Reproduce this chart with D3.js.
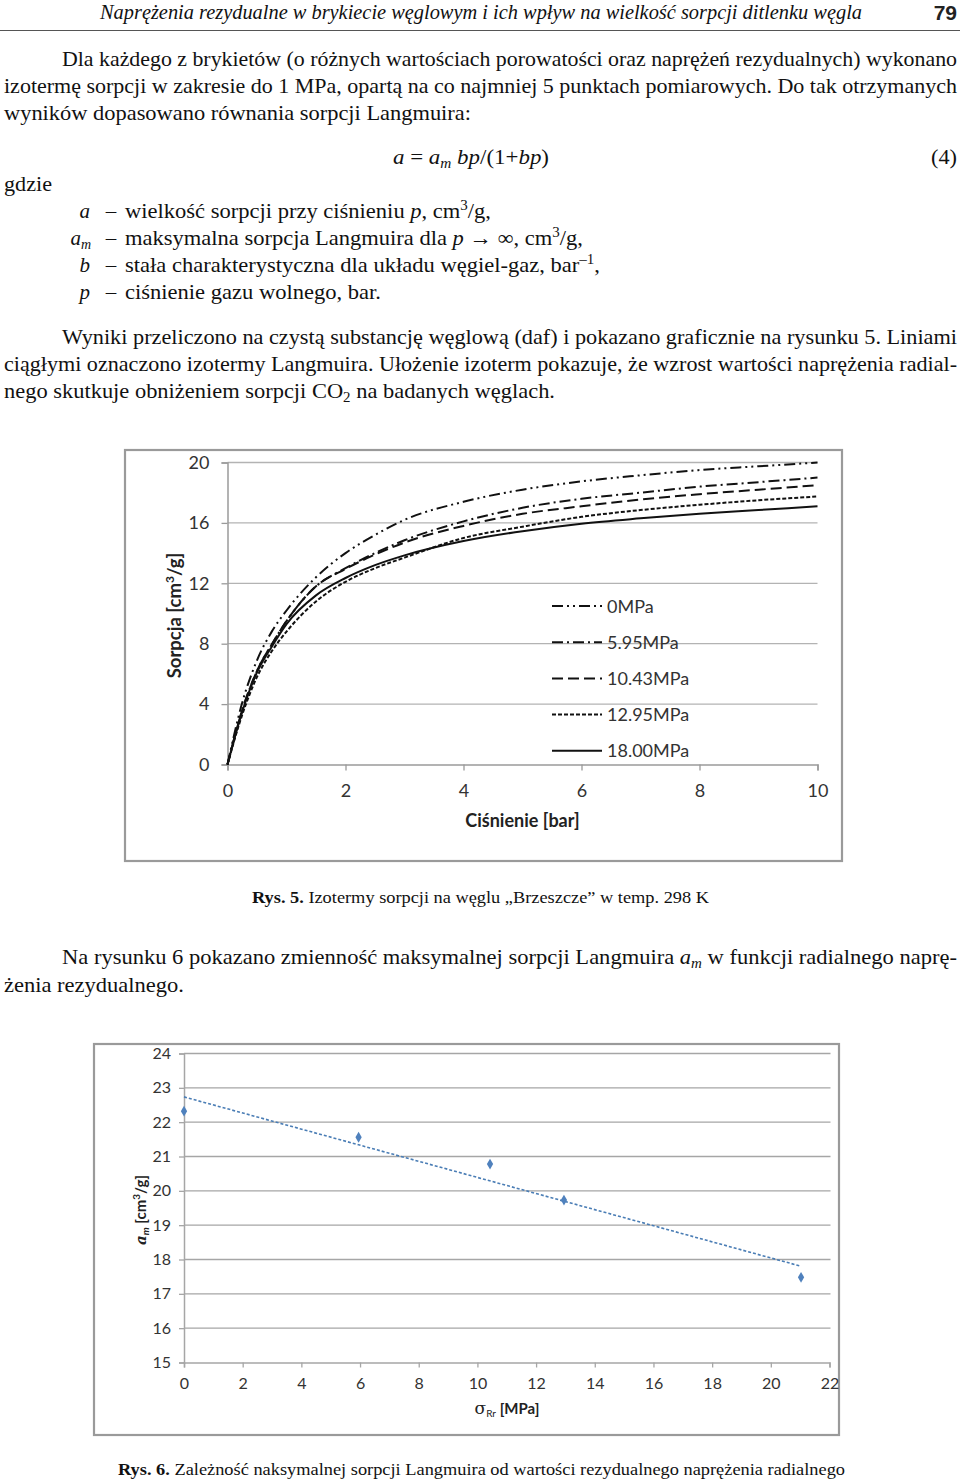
<!DOCTYPE html>
<html>
<head>
<meta charset="utf-8">
<script src="https://cdn.jsdelivr.net/npm/d3@7"></script>
<style>
  body { margin: 0; background: #fff; }
  .serif { font-family: "Liberation Serif", "Times New Roman", serif; fill: #111; }
  .sans { font-family: Lato, "Open Sans", sans-serif; }
</style>
</head>
<body>
<div id="page"></div>
<script>
// --- chart data: Fig. 5 (Langmuir isotherms) ---
var pressure = [0, 0.25, 0.5, 0.75, 1, 1.5, 2, 2.5, 3, 4, 5, 6, 7, 8, 9, 10];
var sorp0 = [0, 4.1, 6.9, 8.8, 10.2, 12.4, 14.0, 15.2, 16.2, 17.4, 18.2, 18.75, 19.15, 19.5, 19.75, 20.0];
var sorp595 = [0, 3.6, 6.2, 7.95, 9.5, 11.8, 13.0, 14.0, 14.85, 16.1, 17.0, 17.6, 18.0, 18.4, 18.7, 19.0];
var sorp1043 = [0, 3.6, 6.2, 7.95, 9.5, 11.8, 12.95, 13.9, 14.7, 15.8, 16.6, 17.1, 17.55, 17.9, 18.2, 18.5];
var sorp1295 = [0, 3.3, 5.8, 7.5, 8.8, 10.8, 12.1, 13.0, 13.7, 15.0, 15.75, 16.4, 16.85, 17.2, 17.5, 17.75];
var sorp1800 = [0, 3.5, 6.1, 7.8, 9.3, 11.2, 12.35, 13.2, 13.85, 14.8, 15.45, 15.95, 16.3, 16.6, 16.85, 17.1];
var seriesNames = ["0MPa", "5.95MPa", "10.43MPa", "12.95MPa", "18.00MPa"];
var xTicks1 = [0, 2, 4, 6, 8, 10];
var yTicks1 = [0, 4, 8, 12, 16, 20];

// --- chart data: Fig. 6 (a_m vs radial stress) ---
var stress = [0, 5.95, 10.43, 12.95, 21.03];
var amax = [22.32, 21.56, 20.78, 19.73, 17.48];
var xTicks2 = [0, 2, 4, 6, 8, 10, 12, 14, 16, 18, 20, 22];
var yTicks2 = [15, 16, 17, 18, 19, 20, 21, 22, 23, 24];

var svg = d3.select("#page").append("svg")
  .attr("width", 960)
  .attr("height", 1481);

// ---------- page text ----------
function line(x, y, len, txt, opts) {
  opts = opts || {};
  var t = svg.append("text")
    .attr("class", "serif")
    .attr("x", x)
    .attr("y", y)
    .attr("font-size", opts.size || 21)
    .attr("font-style", opts.italic ? "italic" : null);
  if (len) t.attr("textLength", len).attr("lengthAdjust", "spacingAndGlyphs");
  if (typeof txt === "string") t.text(txt);
  else txt(t);
  return t;
}

line(100, 19, 762, "Naprężenia rezydualne w brykiecie węglowym i ich wpływ na wielkość sorpcji ditlenku węgla", {italic: true, size: 20});
svg.append("text").attr("x", 957).attr("y", 20).attr("text-anchor", "end")
  .attr("font-family", "'Liberation Sans Narrow', 'Liberation Sans', sans-serif")
  .attr("font-weight", "bold").attr("font-size", 21).attr("fill", "#222").text("79");
svg.append("line").attr("x1", 0).attr("x2", 960).attr("y1", 30.5).attr("y2", 30.5)
  .attr("stroke", "#555").attr("stroke-width", 1.2);

line(62, 66, 895, "Dla każdego z brykietów (o różnych wartościach porowatości oraz naprężeń rezydualnych) wykonano");
line(4, 93, 953, "izotermę sorpcji w zakresie do 1 MPa, opartą na co najmniej 5 punktach pomiarowych. Do tak otrzymanych");
line(4, 120, 467, "wyników dopasowano równania sorpcji Langmuira:");

line(393, 164, 156, function(t) {
  t.append("tspan").attr("font-style", "italic").text("a");
  t.append("tspan").text(" = ");
  t.append("tspan").attr("font-style", "italic").text("a");
  t.append("tspan").attr("font-style", "italic").attr("font-size", 14).attr("dy", 4).text("m");
  t.append("tspan").attr("dy", -4).attr("font-style", "italic").text(" bp");
  t.append("tspan").text("/(1+");
  t.append("tspan").attr("font-style", "italic").text("bp");
  t.append("tspan").text(")");
});
line(931, 164, 26, "(4)");
line(4, 191, 48, "gdzie");

var defs = [
  {sym: "a", sub: null, y: 218, len: 366, body: function(t) {
    t.text("wielkość sorpcji przy ciśnieniu ");
    t.append("tspan").attr("font-style", "italic").text("p");
    t.append("tspan").text(", cm");
    t.append("tspan").attr("font-size", 14).attr("dy", -8).text("3");
    t.append("tspan").attr("dy", 8).text("/g,");
  }},
  {sym: "a", sub: "m", y: 245, len: 458, body: function(t) {
    t.text("maksymalna sorpcja Langmuira dla ");
    t.append("tspan").attr("font-style", "italic").text("p");
    t.append("tspan").text(" → ∞, cm");
    t.append("tspan").attr("font-size", 14).attr("dy", -8).text("3");
    t.append("tspan").attr("dy", 8).text("/g,");
  }},
  {sym: "b", sub: null, y: 272, len: 475, body: function(t) {
    t.text("stała charakterystyczna dla układu węgiel-gaz, bar");
    t.append("tspan").attr("font-size", 14).attr("dy", -8).text("–1");
    t.append("tspan").attr("dy", 8).text(",");
  }},
  {sym: "p", sub: null, y: 299, len: 256, body: function(t) {
    t.text("ciśnienie gazu wolnego, bar.");
  }}
];
defs.forEach(function(d) {
  var s = svg.append("text").attr("class", "serif").attr("x", 90).attr("y", d.y)
    .attr("font-size", 21).attr("text-anchor", "end").attr("font-style", "italic");
  if (d.sub) {
    s.attr("x", 91);
    s.append("tspan").text(d.sym);
    s.append("tspan").attr("font-size", 14).attr("dy", 4).text(d.sub);
  } else s.text(d.sym);
  svg.append("text").attr("class", "serif").attr("x", 111).attr("y", d.y)
    .attr("font-size", 21).attr("text-anchor", "middle").text("–");
  line(125, d.y, d.len, d.body);
});

line(62, 344, 895, "Wyniki przeliczono na czystą substancję węglową (daf) i pokazano graficznie na rysunku 5. Liniami");
line(4, 371, 953, "ciągłymi oznaczono izotermy Langmuira. Ułożenie izoterm pokazuje, że wzrost wartości naprężenia radial-");
line(4, 398, 551, function(t) {
  t.text("nego skutkuje obniżeniem sorpcji CO");
  t.append("tspan").attr("font-size", 14).attr("dy", 4).text("2");
  t.append("tspan").attr("dy", -4).text(" na badanych węglach.");
});

line(252, 903, 457, function(t) {
  t.append("tspan").attr("font-weight", "bold").text("Rys. 5.");
  t.append("tspan").text(" Izotermy sorpcji na węglu „Brzeszcze” w temp. 298 K");
}, {size: 17});

line(62, 964, 895, function(t) {
  t.text("Na rysunku 6 pokazano zmienność maksymalnej sorpcji Langmuira ");
  t.append("tspan").attr("font-style", "italic").text("a");
  t.append("tspan").attr("font-style", "italic").attr("font-size", 14).attr("dy", 4).text("m");
  t.append("tspan").attr("dy", -4).text(" w funkcji radialnego naprę-");
});
line(4, 992, 180, "żenia rezydualnego.");

line(118, 1475, 727, function(t) {
  t.append("tspan").attr("font-weight", "bold").text("Rys. 6.");
  t.append("tspan").text(" Zależność naksymalnej sorpcji Langmuira od wartości rezydualnego naprężenia radialnego");
}, {size: 17});

// ---------- Fig. 5 ----------
var f1 = {left: 227.5, right: 817.5, top: 462.5, bottom: 764.5};
svg.append("rect").attr("x", 125).attr("y", 450).attr("width", 717).attr("height", 411)
  .attr("fill", "#fff").attr("stroke", "#9a9a9a").attr("stroke-width", 2.2);

var x1 = d3.scaleLinear().domain([0, 10]).range([f1.left, f1.right]);
var y1 = d3.scaleLinear().domain([0, 20]).range([f1.bottom, f1.top]);

var g1 = svg.append("g").attr("class", "sans");
g1.selectAll(".grid").data(yTicks1.slice(1)).enter().append("line")
  .attr("x1", f1.left).attr("x2", f1.right)
  .attr("y1", function(d) { return y1(d); }).attr("y2", function(d) { return y1(d); })
  .attr("stroke", "#b3b3b3").attr("stroke-width", 1.3);

var yAxis1 = g1.append("g").attr("transform", "translate(" + f1.left + ",0)")
  .call(d3.axisLeft(y1).tickValues(yTicks1).tickSize(6).tickPadding(12));
var xAxis1 = g1.append("g").attr("transform", "translate(0," + f1.bottom + ")")
  .call(d3.axisBottom(x1).tickValues(xTicks1).tickSize(6).tickPadding(14));
[yAxis1, xAxis1].forEach(function(a) {
  a.select(".domain").attr("stroke", "#9a9a9a").attr("stroke-width", 1.5);
  a.selectAll(".tick line").attr("stroke", "#9a9a9a").attr("stroke-width", 1.3);
  a.selectAll("text").attr("font-family", "Lato, sans-serif").attr("font-size", 18).attr("fill", "#333");
});

var dashes = ["11,4,2,4,2,4", "11,4,2,4", "11,5", "4,2", null];
var allSeries = [sorp0, sorp595, sorp1043, sorp1295, sorp1800];
var lineGen = d3.line()
  .x(function(d) { return x1(d[0]); })
  .y(function(d) { return y1(d[1]); })
  .curve(d3.curveMonotoneX);

allSeries.forEach(function(s, i) {
  g1.append("path")
    .datum(pressure.map(function(p, j) { return [p, s[j]]; }))
    .attr("d", lineGen)
    .attr("fill", "none")
    .attr("stroke", "#111")
    .attr("stroke-width", 2)
    .attr("stroke-dasharray", dashes[i]);
});

var legend = g1.append("g");
seriesNames.forEach(function(name, i) {
  var yy = 606 + i * 36.2;
  legend.append("line").attr("x1", 552).attr("x2", 602).attr("y1", yy).attr("y2", yy)
    .attr("stroke", "#111").attr("stroke-width", 2).attr("stroke-dasharray", dashes[i]);
  legend.append("text").attr("x", 607).attr("y", yy + 6.5)
    .attr("font-size", 18).attr("fill", "#333").text(name);
});

g1.append("text").attr("x", (f1.left + f1.right) / 2).attr("y", 827)
  .attr("text-anchor", "middle").attr("font-weight", "bold").attr("font-size", 18).attr("fill", "#222")
  .text("Ciśnienie [bar]");
g1.append("text").attr("transform", "translate(181," + ((f1.top + f1.bottom) / 2 + 2) + ") rotate(-90)")
  .attr("text-anchor", "middle").attr("font-weight", "bold").attr("font-size", 18.5).attr("fill", "#222")
  .call(function(t) {
    t.append("tspan").text("Sorpcja [cm");
    t.append("tspan").attr("font-size", 12).attr("dy", -7).text("3");
    t.append("tspan").attr("dy", 7).text("/g]");
  });

// ---------- Fig. 6 ----------
var f2 = {left: 184, right: 829.5, top: 1053.5, bottom: 1362.5};
svg.append("rect").attr("x", 94).attr("y", 1044).attr("width", 745).attr("height", 391)
  .attr("fill", "#fff").attr("stroke", "#9a9a9a").attr("stroke-width", 2.2);

var x2 = d3.scaleLinear().domain([0, 22]).range([f2.left, f2.right]);
var y2 = d3.scaleLinear().domain([15, 24]).range([f2.bottom, f2.top]);

var g2 = svg.append("g").attr("class", "sans");
g2.selectAll(".grid").data(yTicks2.slice(1)).enter().append("line")
  .attr("x1", f2.left).attr("x2", f2.right + 1)
  .attr("y1", function(d) { return y2(d); }).attr("y2", function(d) { return y2(d); })
  .attr("stroke", "#a6a6a6").attr("stroke-width", 1.4);

var yAxis2 = g2.append("g").attr("transform", "translate(" + f2.left + ",0)")
  .call(d3.axisLeft(y2).tickValues(yTicks2).tickSize(5).tickPadding(8));
var xAxis2 = g2.append("g").attr("transform", "translate(0," + f2.bottom + ")")
  .call(d3.axisBottom(x2).tickValues(xTicks2).tickSize(5).tickPadding(10));
[yAxis2, xAxis2].forEach(function(a) {
  a.select(".domain").attr("stroke", "#a6a6a6").attr("stroke-width", 1.5);
  a.selectAll(".tick line").attr("stroke", "#a6a6a6").attr("stroke-width", 1.3);
  a.selectAll("text").attr("font-family", "Lato, sans-serif").attr("font-size", 16).attr("fill", "#333");
});

// least squares trendline through the plotted points (as the spreadsheet does)
var mx = d3.mean(stress), my = d3.mean(amax);
var sxy = d3.sum(stress, function(v, i) { return (v - mx) * (amax[i] - my); });
var sxx = d3.sum(stress, function(v) { return (v - mx) * (v - mx); });
var slope = sxy / sxx, icpt = my - slope * mx;
var xEnds = d3.extent(stress);
g2.append("line")
  .attr("x1", x2(xEnds[0])).attr("y1", y2(icpt + slope * xEnds[0]))
  .attr("x2", x2(xEnds[1])).attr("y2", y2(icpt + slope * xEnds[1]))
  .attr("stroke", "#4a7db5").attr("stroke-width", 1.6).attr("stroke-dasharray", "3,2");

g2.selectAll(".pt").data(stress).enter().append("path")
  .attr("transform", function(d, i) { return "translate(" + x2(d) + "," + y2(amax[i]) + ")"; })
  .attr("d", d3.symbol().type(d3.symbolDiamond).size(34))
  .attr("fill", "#4f81bd");

g2.append("text").attr("x", 507).attr("y", 1414)
  .attr("text-anchor", "middle").attr("font-weight", "bold").attr("font-size", 15).attr("fill", "#222")
  .call(function(t) {
    t.append("tspan").attr("font-family", "'DejaVu Serif', serif").attr("font-weight", "normal").attr("font-size", 17).text("σ");
    t.append("tspan").attr("font-size", 10).attr("font-weight", "normal").attr("dy", 3).text("Rr");
    t.append("tspan").attr("dy", -3).text(" [MPa]");
  });
g2.append("text").attr("transform", "translate(146," + 1210 + ") rotate(-90)")
  .attr("text-anchor", "middle").attr("font-weight", "bold").attr("font-size", 15).attr("fill", "#222")
  .call(function(t) {
    t.append("tspan").attr("font-style", "italic").attr("font-family", "'DejaVu Serif', serif").text("a");
    t.append("tspan").attr("font-style", "italic").attr("font-size", 10).attr("dy", 3).text("m");
    t.append("tspan").attr("dy", -3).text(" [cm");
    t.append("tspan").attr("font-size", 10).attr("dy", -6).text("3");
    t.append("tspan").attr("dy", 6).text("/g]");
  });
</script>
</body>
</html>
